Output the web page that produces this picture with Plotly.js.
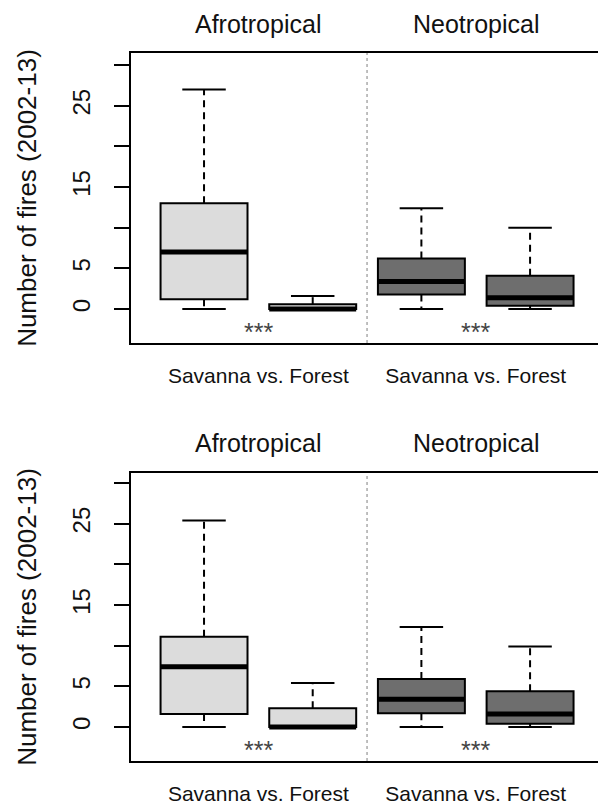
<!DOCTYPE html>
<html>
<head>
<meta charset="utf-8">
<script src="https://cdn.plot.ly/plotly-3.0.1.min.js"></script>
<style>
  html, body { margin: 0; padding: 0; background: #ffffff; }
  #chart { width: 598px; height: 806px; }
</style>
</head>
<body>
<div id="chart"></div>
<script>
// ---------- data ----------
const positions = [1, 2, 3, 4];
const regionNames = ['Afrotropical', 'Neotropical'];
const regionCenters = [1.5, 3.5];
const comparisonLabels = ['Savanna vs. Forest', 'Savanna vs. Forest'];
const significance = ['***', '***'];
const significanceY = -2.8;
const yTickValues = [0, 5, 10, 15, 20, 25, 30];
const yTickLabels = ['0', '5', '', '15', '', '25', ''];
const yTitle = 'Number of fires (2002-13)';

// top panel (Afro savanna, Afro forest, Neo savanna, Neo forest)
const topLower  = [0, 0, 0, 0];
const topQ1     = [1.2, 0, 1.8, 0.4];
const topMedian = [7.0, 0, 3.4, 1.4];
const topQ3     = [13.0, 0.6, 6.2, 4.1];
const topUpper  = [27.0, 1.6, 12.4, 10.0];

// bottom panel
const botLower  = [0, 0, 0, 0];
const botQ1     = [1.6, 0, 1.7, 0.4];
const botMedian = [7.4, 0, 3.4, 1.6];
const botQ3     = [11.1, 2.3, 5.9, 4.4];
const botUpper  = [25.4, 5.4, 12.3, 9.9];

// ---------- styles ----------
const FONT = 'Liberation Sans, Arial, Helvetica, sans-serif';
const BOX_W = 0.8;
const CAP_W = 0.4;
const regionFill = ['#dcdcdc', '#6e6e6e'];

function panelTraces(lower, q1, med, q3, upper, xa, ya) {
  const traces = [];
  for (let r = 0; r < 2; r++) {
    const idx = [2 * r, 2 * r + 1];
    traces.push({
      type: 'box',
      x: idx.map(i => positions[i]),
      q1: idx.map(i => q1[i]),
      median: idx.map(i => med[i]),
      q3: idx.map(i => q3[i]),
      lowerfence: idx.map(i => q1[i]),
      upperfence: idx.map(i => q3[i]),
      width: BOX_W,
      whiskerwidth: 0,
      fillcolor: regionFill[r],
      line: { color: '#000000', width: 2 },
      boxpoints: false,
      hoverinfo: 'skip',
      showlegend: false,
      xaxis: xa, yaxis: ya
    });
  }
  const wx = [], wy = [];
  positions.forEach((p, i) => {
    wx.push(p, p, null, p, p, null);
    wy.push(q3[i], upper[i], null, q1[i], lower[i], null);
  });
  traces.push({
    type: 'scatter', mode: 'lines', x: wx, y: wy,
    line: { color: '#000000', width: 2, dash: '7px,5px' },
    hoverinfo: 'skip', showlegend: false, xaxis: xa, yaxis: ya
  });
  const cx = [], cy = [];
  positions.forEach((p, i) => {
    cx.push(p - CAP_W / 2, p + CAP_W / 2, null, p - CAP_W / 2, p + CAP_W / 2, null);
    cy.push(upper[i], upper[i], null, lower[i], lower[i], null);
  });
  traces.push({
    type: 'scatter', mode: 'lines', x: cx, y: cy,
    line: { color: '#000000', width: 2 },
    hoverinfo: 'skip', showlegend: false, xaxis: xa, yaxis: ya
  });
  const mx = [], my = [];
  positions.forEach((p, i) => {
    mx.push(p - BOX_W / 2, p + BOX_W / 2, null);
    my.push(med[i], med[i], null);
  });
  traces.push({
    type: 'scatter', mode: 'lines', x: mx, y: my,
    line: { color: '#000000', width: 5 },
    hoverinfo: 'skip', showlegend: false, xaxis: xa, yaxis: ya
  });
  return traces;
}

const data = [].concat(
  panelTraces(topLower, topQ1, topMedian, topQ3, topUpper, 'x', 'y'),
  panelTraces(botLower, botQ1, botMedian, botQ3, botUpper, 'x2', 'y2')
);

function xAxis(anchor) {
  return {
    anchor: anchor,
    domain: [0, 1],
    range: [0.328, 4.625],
    tickmode: 'array',
    tickvals: regionCenters,
    ticktext: comparisonLabels,
    ticks: '',
    ticklabelstandoff: 13,
    tickfont: { family: FONT, size: 21, color: '#111111' },
    showgrid: false, zeroline: false,
    showline: true, mirror: true, linecolor: '#000000', linewidth: 2,
    fixedrange: true
  };
}
function yAxis(anchor, domain, range) {
  return {
    anchor: anchor,
    domain: domain,
    range: range,
    tickmode: 'array',
    tickvals: yTickValues,
    ticktext: yTickLabels,
    ticks: 'outside', ticklen: 15, tickwidth: 2, tickcolor: '#000000',
    tickangle: -90,
    ticklabelstandoff: 14,
    tickfont: { family: FONT, size: 24, color: '#111111' },
    showgrid: false, zeroline: false,
    showline: true, mirror: false, linecolor: '#000000', linewidth: 2,
    title: { text: yTitle, font: { family: FONT, size: 26, color: '#111111' }, standoff: 24 },
    fixedrange: true
  };
}

const annotations = [];
const shapes = [];
[['x', 'y', 1.1], ['x2', 'y2', 1.104]].forEach(([xa, ya, ty]) => {
  regionNames.forEach((name, k) => {
    annotations.push({
      xref: xa, yref: ya + ' domain', x: regionCenters[k], y: ty,
      text: name, showarrow: false, xanchor: 'center', yanchor: 'middle',
      font: { family: FONT, size: 25, color: '#111111' }
    });
    annotations.push({
      xref: xa, yref: ya, x: regionCenters[k], y: significanceY,
      text: significance[k], showarrow: false, xanchor: 'center', yanchor: 'middle',
      font: { family: FONT, size: 25, color: '#444444' }
    });
  });
  shapes.push({
    type: 'line', xref: xa, yref: ya + ' domain',
    x0: 2.5, x1: 2.5, y0: 0, y1: 1,
    line: { color: '#aaaaaa', width: 1.5, dash: 'dot' }
  });
});

const layout = {
  width: 598, height: 806,
  margin: { l: 131, r: 0, t: 0, b: 0 },
  paper_bgcolor: '#ffffff', plot_bgcolor: '#ffffff',
  showlegend: false,
  boxmode: 'overlay',
  font: { family: FONT, color: '#111111' },
  xaxis: xAxis('y'),
  xaxis2: xAxis('y2'),
  yaxis: yAxis('x', [0.5744, 0.9342], [-4.18, 31.48]),
  yaxis2: yAxis('x2', [0.0558, 0.4132], [-4.18, 31.23]),
  annotations: annotations,
  shapes: shapes
};

Plotly.newPlot('chart', data, layout, { displayModeBar: false, staticPlot: true });
</script>
</body>
</html>
